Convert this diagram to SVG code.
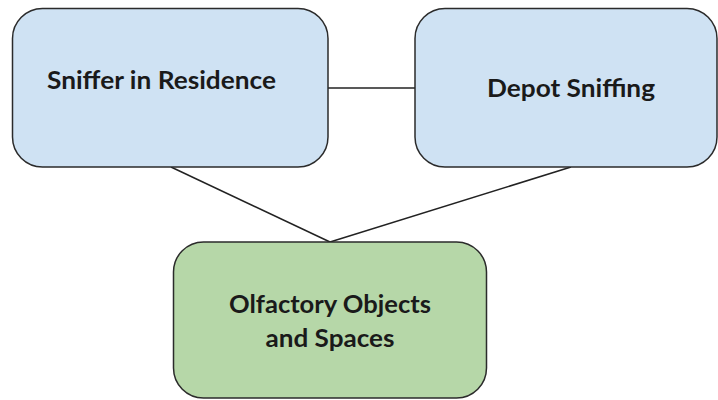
<svg xmlns="http://www.w3.org/2000/svg" width="718" height="400" viewBox="0 0 718 400">
  <style>
    .box { stroke: #2b2b2b; stroke-width: 1.5; }
    .blue { fill: #cfe2f3; }
    .green { fill: #b6d7a8; }
    .label { font-family: Lato, "Open Sans", "Liberation Sans", sans-serif; font-weight: bold; font-size: 25px; fill: #1a1a1a; text-anchor: middle; }
    .link { stroke: #222; stroke-width: 1.5; fill: none; }
  </style>
  <rect width="718" height="400" fill="#ffffff"/>
  <g id="connectors">
    <line class="link" x1="328" y1="88" x2="415" y2="88"/>
    <line class="link" x1="171" y1="167" x2="330" y2="242"/>
    <line class="link" x1="571" y1="167" x2="330" y2="242"/>
  </g>
  <g id="sniffer-in-residence">
    <rect class="box blue" x="12.5" y="8.5" width="315.5" height="158.5" rx="30"/>
    <text class="label" x="161.5" y="89" textLength="229" lengthAdjust="spacingAndGlyphs">Sniffer in Residence</text>
  </g>
  <g id="depot-sniffing">
    <rect class="box blue" x="415" y="8.5" width="302" height="158.5" rx="30"/>
    <text class="label" x="571" y="97" textLength="168" lengthAdjust="spacingAndGlyphs">Depot Sniffing</text>
  </g>
  <g id="olfactory-objects">
    <rect class="box green" x="173.5" y="242" width="313" height="156" rx="30"/>
    <text class="label" x="330" y="313" textLength="202" lengthAdjust="spacingAndGlyphs">Olfactory Objects</text>
    <text class="label" x="330" y="347" textLength="129" lengthAdjust="spacingAndGlyphs">and Spaces</text>
  </g>
</svg>
